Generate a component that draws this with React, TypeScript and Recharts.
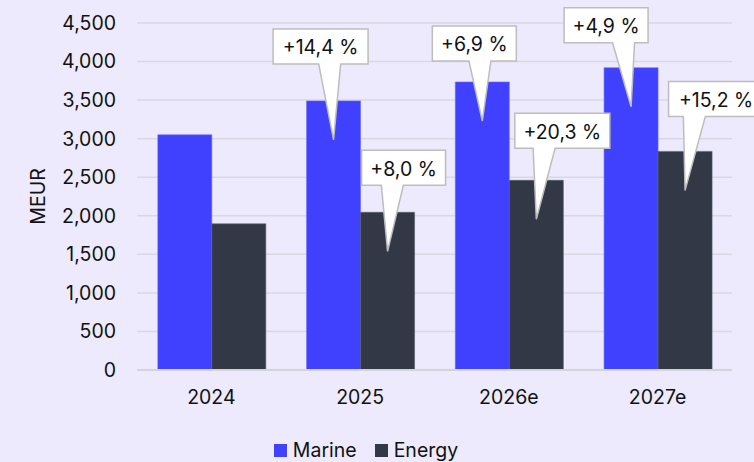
import React from "react";
import {
  BarChart,
  Bar,
  XAxis,
  YAxis,
  CartesianGrid,
  Legend,
  LabelList,
} from "recharts";

const years = ["2024", "2025", "2026e", "2027e"];
const marine = [3050, 3490, 3735, 3920];
const energy = [1895, 2045, 2460, 2835];
const marineGrowth = ["", "+14,4 %", "+6,9 %", "+4,9 %"];
const energyGrowth = ["", "+8,0 %", "+20,3 %", "+15,2 %"];
const yTicks = [0, 500, 1000, 1500, 2000, 2500, 3000, 3500, 4000, 4500];

// callout nudges: [box centre dx from bar centre, gap between box bottom and bar top]
const marineNudge = [[0, 0], [-13, 37], [-8, 21], [-25, 25]];
const energyNudge = [[0, 0], [16, 27], [26, 32], [31, 35]];

const chartData = years.map((year, i) => ({
  year,
  marine: marine[i],
  energy: energy[i],
}));

const FONT = "Inter, 'Noto Sans', sans-serif";
const FS = 19.5;

const makeCallout = (labels: string[], nudges: number[][]) => (props: any) => {
  const { x, y, width, index } = props;
  const text = labels[index];
  if (!text) return null;
  const [dx, gap] = nudges[index];
  const tipX = Number(x) + Number(width) / 2;
  const tipY = Number(y) + 39; // tail ends inside the bar
  const boxW = 11 * text.length + 18;
  const boxH = 35;
  const cx = tipX + dx;
  const bottom = Number(y) - gap;
  const top = bottom - boxH;
  const left = cx - boxW / 2;
  const right = cx + boxW / 2;
  const baseC = tipX + dx * 0.3;
  const path = [
    `M${left},${top}`,
    `L${right},${top}`,
    `L${right},${bottom}`,
    `L${baseC + 11},${bottom}`,
    `L${tipX},${tipY}`,
    `L${baseC - 11},${bottom}`,
    `L${left},${bottom}`,
    "Z",
  ].join(" ");
  return (
    <g>
      <path d={path} fill="#ffffff" stroke="#bdbdbd" strokeWidth={1.5} strokeLinejoin="miter" />
      <text
        x={cx}
        y={top + boxH / 2 + 1}
        textAnchor="middle"
        dominantBaseline="central"
        fill="#111111"
        style={{ fontSize: FS, fontFamily: FONT }}
      >
        {text}
      </text>
    </g>
  );
};

const LegendContent = () => (
  <div
    style={{
      display: "flex",
      justifyContent: "center",
      alignItems: "center",
      fontFamily: FONT,
      fontSize: FS,
      color: "#111",
      lineHeight: "24px",
    }}
  >
    <span style={{ width: 13, height: 13, background: "#4040ff", marginRight: 6 }} />
    <span style={{ marginRight: 18 }}>Marine</span>
    <span style={{ width: 13, height: 13, background: "#323845", marginRight: 6 }} />
    <span>Energy</span>
  </div>
);

export default function App() {
  return (
    <div
      style={{
        position: "fixed",
        top: 0,
        left: 0,
        width: 754,
        height: 462,
        background: "#eceafc",
      }}
    >
      <BarChart
        width={754}
        height={462}
        data={chartData}
        margin={{ top: 23, right: 22, bottom: 0, left: 0 }}
        barCategoryGap="14%"
        barGap={0}
      >
        <CartesianGrid vertical={false} stroke="#d8d7e2" strokeWidth={1.5} />
        <XAxis
          dataKey="year"
          height={68}
          tickLine={false}
          axisLine={{ stroke: "#d4d3dc", strokeWidth: 2 }}
          tickMargin={14}
          tick={{ fill: "#111111", fontSize: FS, fontFamily: FONT }}
        />
        <YAxis
          width={137}
          domain={[0, 4500]}
          ticks={yTicks}
          tickLine={false}
          axisLine={false}
          tickMargin={15}
          tickFormatter={(v: number) => v.toLocaleString("en-US")}
          tick={{ fill: "#111111", fontSize: FS, fontFamily: FONT }}
          label={{
            value: "MEUR",
            angle: -90,
            position: "insideLeft",
            offset: 38,
            style: { textAnchor: "middle", fill: "#111111", fontSize: FS, fontFamily: FONT },
          }}
        />
        <Legend verticalAlign="bottom" height={24} content={<LegendContent />} />
        <Bar dataKey="marine" name="Marine" fill="#4040ff" stroke="#6a6aff" strokeWidth={0.6} isAnimationActive={false}>
          <LabelList dataKey="marine" content={makeCallout(marineGrowth, marineNudge)} />
        </Bar>
        <Bar dataKey="energy" name="Energy" fill="#323845" stroke="#55606e" strokeWidth={0.6} isAnimationActive={false}>
          <LabelList dataKey="energy" content={makeCallout(energyGrowth, energyNudge)} />
        </Bar>
      </BarChart>
    </div>
  );
}
